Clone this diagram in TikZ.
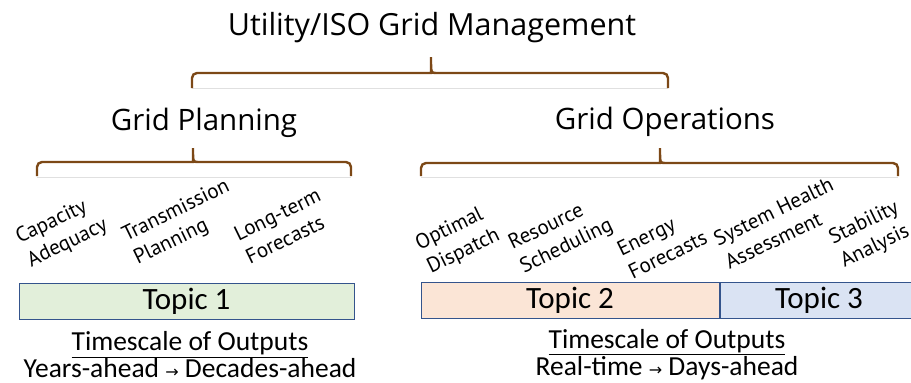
\documentclass[tikz,border=0pt]{standalone}
\usepackage{fontspec}
\setmainfont{Open Sans}
\newfontfamily\calfont{Carlito}
\newfontfamily\taskfont{PT Sans}
\newfontfamily\symfont{DejaVu Sans}
\usetikzlibrary{positioning}
\definecolor{bracebrown}{RGB}{124,72,22}
\definecolor{topicgreen}{RGB}{226,239,218}
\definecolor{topicpeach}{RGB}{251,229,214}
\definecolor{topicblue}{RGB}{218,227,243}
\definecolor{topicedge}{RGB}{52,84,140}

\begin{document}
\begin{tikzpicture}[x=1pt,y=-1pt,
  head/.style={inner sep=0pt,font=\fontsize{30.5}{36}\selectfont},
  sub/.style={inner sep=0pt,font=\fontsize{29.5}{35}\selectfont},
  task/.style={inner sep=0pt,align=left,rotate=26,
               font=\taskfont\fontsize{21}{26}\selectfont},
  topic/.style={draw=topicedge,line width=1pt,minimum height=36pt,inner sep=0pt,
                font=\calfont\fontsize{31}{36}\selectfont},
  outputs/.style={inner sep=0pt,align=center,
                  font=\calfont\fontsize{27.5}{27}\selectfont},
  brace/.style={draw=bracebrown,line width=2.4pt},
  faint/.style={draw=black!12,line width=0.6pt}]
\useasboundingbox (0,0) rectangle (911,383);
% headings
\node[head] (mgmt) at (432,28) {Utility/ISO Grid Management};
\node[sub] (plan) at (204,123) {Grid Planning};
\node[sub] (ops) at (665,122) {Grid Operations};
% braces
\draw[faint] (192,88) -- (668,88);
\draw[faint] (37,177) -- (351,177);
\draw[faint] (421,177) -- (898,177);
\draw[brace] (192,88) [rounded corners=5pt] -- (192,73) -- (426,73) [sharp corners]
  .. controls (431,73) .. (431,57) .. controls (431,73) .. (436,73)
  [rounded corners=5pt] -- (668,73) -- (668,88);
\draw[brace] (37,176) [rounded corners=5pt] -- (37,162) -- (188,162) [sharp corners]
  .. controls (193,162) .. (193,148) .. controls (193,162) .. (198,162)
  [rounded corners=5pt] -- (351,162) -- (351,176);
\draw[brace] (421,176) [rounded corners=5pt] -- (421,163) -- (655,163) [sharp corners]
  .. controls (660,163) .. (660,148) .. controls (660,163) .. (665,163)
  [rounded corners=5pt] -- (898,163) -- (898,176);
% tasks
\node[task] (capacity) at (62,232) {Capacity\\Adequacy};
\node[task] (transmission) at (182,223) {Transmission\\Planning};
\node[task] (longterm) at (283,226) {Long-term\\Forecasts};
\node[task] (dispatch) at (458,240) {Optimal\\Dispatch};
\node[task] (resource) at (561,235) {Resource\\Scheduling};
\node[task] (energy) at (662,243) {Energy\\Forecasts};
\node[task] (health) at (779,223) {System Health\\Assessment};
\node[task] (stability) at (870,235) {Stability\\Analysis};
% topics
\node[topic,fill=topicgreen,minimum width=335pt] (topic1) at (186.5,301) {Topic 1};
\node[topic,fill=topicpeach,minimum width=298pt] (topic2) at (570,300.5) {Topic 2};
\node[topic,fill=topicblue,minimum width=198pt,right=0pt of topic2] (topic3) {Topic 3};
% timescales
\node[outputs] (slow) at (190,355) {\underline{Timescale of Outputs}\\
  Years-ahead {\symfont\fontsize{16}{16}\selectfont →} Decades-ahead};
\node[outputs] (fast) at (667,355) {\underline{Timescale of Outputs}\\
  Real-time {\symfont\fontsize{16}{16}\selectfont →} Days-ahead};
\end{tikzpicture}
\end{document}
